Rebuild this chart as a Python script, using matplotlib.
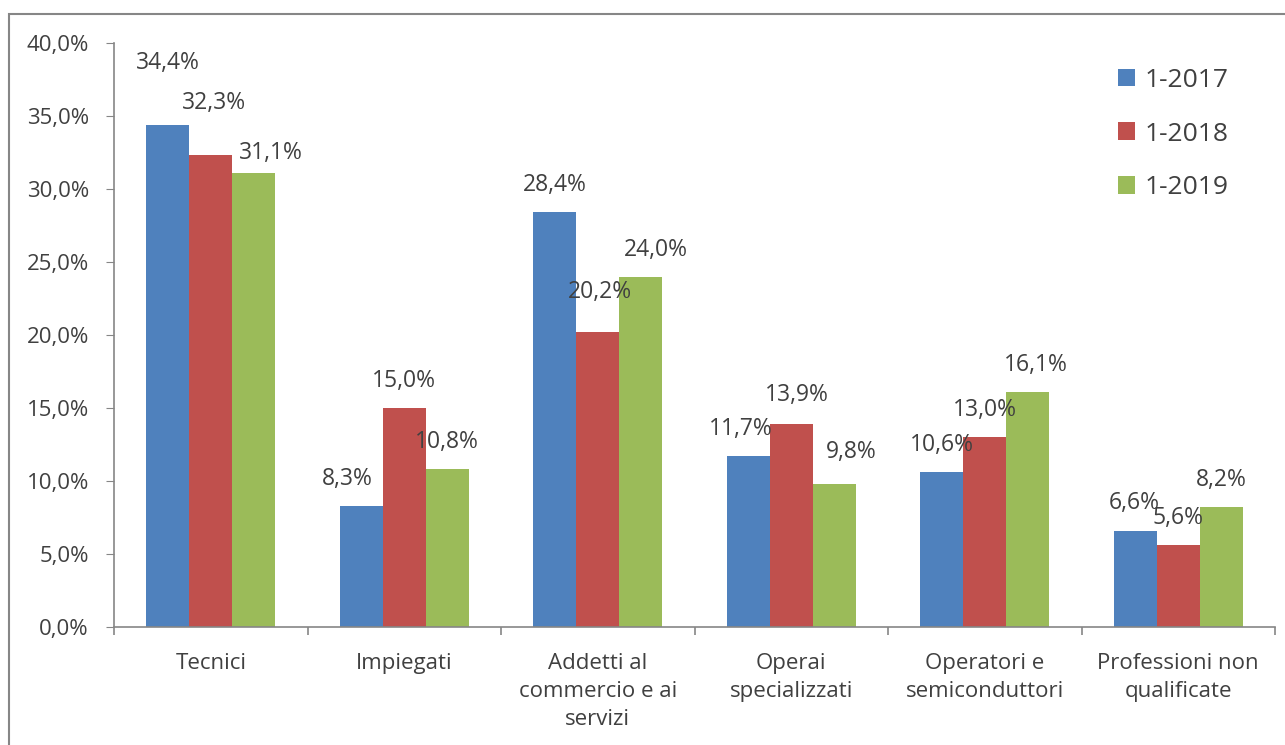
import matplotlib.pyplot as plt
import numpy as np
from matplotlib.patches import Rectangle

# dati
categorie = ['Tecnici', 'Impiegati', 'Addetti al\ncommercio e ai\nservizi',
             'Operai\nspecializzati', 'Operatori e\nsemiconduttori',
             'Professioni non\nqualificate']
serie = ['1-2017', '1-2018', '1-2019']
v2017 = [34.4, 8.3, 28.4, 11.7, 10.6, 6.6]
v2018 = [32.3, 15.0, 20.2, 13.9, 13.0, 5.6]
v2019 = [31.1, 10.8, 24.0, 9.8, 16.1, 8.2]
yticks = [0, 5, 10, 15, 20, 25, 30, 35, 40]

colori = ['#4F81BD', '#C0504D', '#9BBB59']
testo = '#404040'
grigio = '#868686'

plt.rcParams['font.family'] = ['Open Sans', 'DejaVu Sans']

fig = plt.figure(figsize=(12.85, 7.45), dpi=100)
ax = fig.add_axes([114 / 1285, 1 - 627 / 745, (1275 - 114) / 1285, (627 - 43) / 745])

# cornice del grafico
fig.patches.append(Rectangle((9 / 1285, -0.1), 1.2, 1 - 14 / 745 + 0.1,
                             transform=fig.transFigure, fill=False,
                             edgecolor=grigio, linewidth=1.5))

x = np.arange(len(categorie))
w = 0.222
valori = [v2017, v2018, v2019]

# spostamenti etichette (px) rispetto al default, come nell'originale
offset_extra = {(0, 0): (0, 35), (0, 1): (3, 25), (0, 2): (17, -7),
                (1, 0): (-14, 0), (2, 1): (2, 13), (2, 2): (15, 0),
                (3, 0): (-7, 0), (3, 1): (6, 2), (3, 2): (17, 5),
                (4, 2): (8, 0), (5, 0): (-1, 1)}

for i, vals in enumerate(valori):
    pos = x + (i - 1) * w
    ax.bar(pos, vals, width=w, color=colori[i], label=serie[i], zorder=2)
    for j, v in enumerate(vals):
        dx, dy = offset_extra.get((j, i), (0, 0))
        ax.annotate(f'{v:.1f}%'.replace('.', ','), (pos[j], v),
                    xytext=(dx * 0.72, (27 + dy) * 0.72), textcoords='offset points',
                    ha='center', va='center', fontsize=16.5, color=testo)

ax.set_xlim(-0.5, len(categorie) - 0.5)
ax.set_ylim(0, 40)
ax.set_yticks(yticks)
ax.set_yticklabels([f'{t:.1f}%'.replace('.', ',') for t in yticks])
ax.set_xticks(x)
ax.set_xticklabels(categorie, linespacing=1.42)
ax.set_xticks(np.arange(-0.5, len(categorie)), minor=True)

ax.tick_params(axis='y', length=6, color=grigio, labelsize=16, labelcolor=testo, pad=12)
ax.tick_params(axis='x', which='major', length=0, labelsize=16, labelcolor=testo, pad=19)
ax.tick_params(axis='x', which='minor', length=6, color=grigio, width=1.2)

for s in ['top', 'right']:
    ax.spines[s].set_visible(False)
for s in ['left', 'bottom']:
    ax.spines[s].set_color(grigio)
    ax.spines[s].set_linewidth(1.2)

leg = ax.legend(loc='upper left', bbox_to_anchor=(1094 / 1285, 1 - 44 / 745),
                bbox_transform=fig.transFigure, frameon=False, fontsize=19,
                handlelength=0.65, handleheight=0.65, handletextpad=0.35,
                labelspacing=1.09)
for t in leg.get_texts():
    t.set_color(testo)

fig.savefig('out.png', dpi=100)
